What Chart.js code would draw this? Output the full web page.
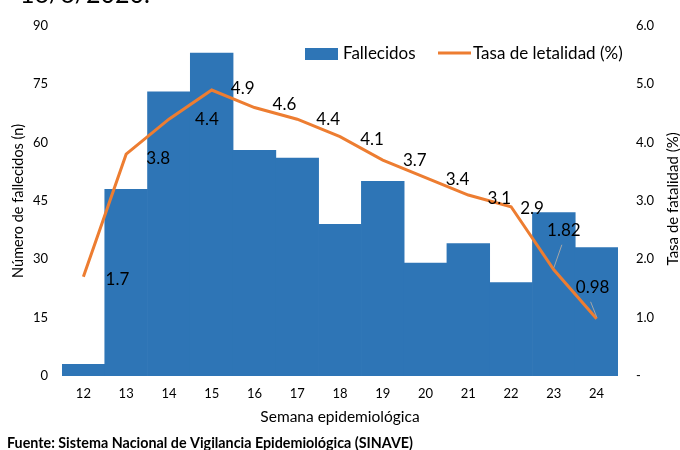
<!DOCTYPE html>
<html>
<head>
<meta charset="utf-8">
<script src="https://cdn.jsdelivr.net/npm/chart.js@4.4.1/dist/chart.umd.min.js"></script>
<style>
  html, body { margin: 0; padding: 0; background: #fff; }
</style>
</head>
<body>
<canvas id="chart" width="680" height="450"></canvas>
<script>
// data
const semanas = ["12", "13", "14", "15", "16", "17", "18", "19", "20", "21", "22", "23", "24"];
const fallecidos = [3, 48, 73, 83, 58, 56, 39, 50, 29, 34, 24, 42, 33];
const letalidad = [1.7, 3.8, 4.4, 4.9, 4.6, 4.4, 4.1, 3.7, 3.4, 3.1, 2.9, 1.82, 0.98];

const FONT = "Lato, 'Noto Sans', sans-serif";

// where each rate label sits relative to its point (px)
const labelOffsets = [
  [34, 3], [32, 4], [38, 0], [31, -1], [30, -3], [31, 0], [32, 3],
  [32, 0], [32, 2], [31, 3], [21, 2], [10, -39], [-4, -31]
];
const withLeader = [11, 12];

const extras = {
  id: "extras",
  afterDatasetsDraw(chart) {
    const ctx = chart.ctx;
    const meta = chart.getDatasetMeta(1);
    ctx.save();
    ctx.font = "17px " + FONT;
    ctx.fillStyle = "#000";
    ctx.textAlign = "center";
    ctx.textBaseline = "middle";
    meta.data.forEach((pt, i) => {
      const lx = pt.x + labelOffsets[i][0];
      const ly = pt.y + labelOffsets[i][1];
      ctx.fillText(String(letalidad[i]), lx, ly);
      if (withLeader.includes(i)) {
        ctx.strokeStyle = "#A6A6A6";
        ctx.lineWidth = 1;
        ctx.beginPath();
        ctx.moveTo(lx - 2, ly + 14);
        ctx.lineTo(pt.x, pt.y - 2);
        ctx.stroke();
      }
    });
    ctx.restore();
  },
  afterDraw(chart) {
    const ctx = chart.ctx;
    ctx.save();
    // legend
    ctx.fillStyle = "#2E75B6";
    ctx.fillRect(305, 48, 33, 12);
    ctx.strokeStyle = "#ED7D31";
    ctx.lineWidth = 3;
    ctx.beginPath();
    ctx.moveTo(438, 53);
    ctx.lineTo(471, 53);
    ctx.stroke();
    ctx.fillStyle = "#000";
    ctx.font = "17px " + FONT;
    ctx.textBaseline = "middle";
    ctx.textAlign = "left";
    ctx.fillText("Fallecidos", 343, 54);
    ctx.fillText("Tasa de letalidad (%)", 473, 54);
    // cut-off caption above the chart
    ctx.font = "25px " + FONT;
    ctx.textBaseline = "alphabetic";
    ctx.fillText("16/6/2020.", 20, 3);
    // source
    ctx.font = "bold 14.3px " + FONT;
    ctx.textBaseline = "middle";
    ctx.fillText("Fuente: Sistema Nacional de Vigilancia Epidemiológica (SINAVE)", 7, 443);
    // right axis title, reading upwards like the left one
    const a = chart.chartArea;
    ctx.translate(673, (a.top + a.bottom) / 2 - 2);
    ctx.rotate(-Math.PI / 2);
    ctx.textAlign = "center";
    ctx.font = "15px " + FONT;
    ctx.fillText("Tasa de fatalidad (%)", 0, 0);
    ctx.restore();
  }
};

new Chart(document.getElementById("chart"), {
  data: {
    labels: semanas,
    datasets: [
      {
        type: "bar",
        label: "Fallecidos",
        data: fallecidos,
        yAxisID: "y",
        backgroundColor: "#2E75B6",
        barPercentage: 1,
        categoryPercentage: 1,
        order: 1
      },
      {
        type: "line",
        label: "Tasa de letalidad (%)",
        data: letalidad,
        yAxisID: "y1",
        borderColor: "#ED7D31",
        backgroundColor: "#ED7D31",
        borderWidth: 3,
        pointRadius: 0,
        tension: 0,
        order: 0
      }
    ]
  },
  options: {
    responsive: false,
    animation: false,
    layout: { padding: { top: 22, bottom: 22, left: 0, right: 0 } },
    plugins: {
      legend: { display: false },
      tooltip: { enabled: false }
    },
    scales: {
      x: {
        grid: { display: false, drawTicks: false },
        border: { display: false },
        ticks: { color: "#000", font: { family: FONT, size: 13 }, padding: 10 },
        title: {
          display: true, text: "Semana epidemiológica", color: "#000",
          font: { family: FONT, size: 15.5 }, padding: { top: 4, bottom: 2 }
        },
        afterFit(axis) { axis.height = 52; }
      },
      y: {
        position: "left",
        min: 0, max: 90,
        grid: { display: false, drawTicks: false },
        border: { display: false },
        ticks: { stepSize: 15, color: "#000", font: { family: FONT, size: 13 }, padding: 14 },
        title: {
          display: true, text: "Número de fallecidos (n)", color: "#000",
          font: { family: FONT, size: 14.5 }, padding: { top: 10, bottom: 2 }
        },
        afterFit(axis) { axis.width = 62; }
      },
      y1: {
        position: "right",
        min: 0, max: 6,
        grid: { display: false, drawTicks: false },
        border: { display: false },
        ticks: {
          stepSize: 1, color: "#000", font: { family: FONT, size: 13 }, padding: 18,
          callback: (v) => (v === 0 ? "-" : v.toFixed(1))
        },
        afterFit(axis) { axis.width = 62; }
      }
    }
  },
  plugins: [extras]
});
</script>
</body>
</html>
